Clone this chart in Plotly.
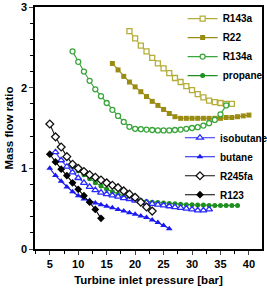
import plotly.graph_objects as go

# ---- data ----
p_r143a = list(range(19, 38))
m_r143a = [2.70, 2.61, 2.52, 2.45, 2.37, 2.30, 2.24, 2.18, 2.12, 2.07, 2.02,
           1.97, 1.92, 1.88, 1.84, 1.82, 1.81, 1.80, 1.80]

p_r22 = list(range(16, 41))
m_r22 = [2.30, 2.22, 2.14, 2.07, 2.01, 1.95, 1.89, 1.83, 1.78, 1.73, 1.68, 1.64,
         1.62, 1.62, 1.62, 1.62, 1.62, 1.62, 1.62, 1.62, 1.63, 1.63, 1.64, 1.65, 1.66]

p_r134a = list(range(9, 37))
m_r134a = [2.45, 2.32, 2.20, 2.085, 1.98, 1.895, 1.81, 1.725, 1.65, 1.575, 1.515,
           1.49, 1.485, 1.48, 1.475, 1.47, 1.47, 1.47, 1.475, 1.48, 1.49, 1.50,
           1.51, 1.53, 1.56, 1.60, 1.67, 1.78]

p_propane = list(range(9, 39))
m_propane = [1.02, 0.97, 0.92, 0.87, 0.82, 0.78, 0.74, 0.71, 0.68, 0.65, 0.63,
             0.61, 0.60, 0.59, 0.58, 0.575, 0.57, 0.565, 0.56, 0.555, 0.55, 0.55,
             0.545, 0.545, 0.54, 0.54, 0.54, 0.54, 0.54, 0.54]

p_isobutane = list(range(6, 34))
m_isobutane = [1.20, 1.10, 1.02, 0.95, 0.88, 0.82, 0.77, 0.73, 0.70, 0.68, 0.665,
               0.65, 0.63, 0.62, 0.60, 0.59, 0.575, 0.56, 0.55, 0.54, 0.53, 0.52,
               0.51, 0.50, 0.49, 0.48, 0.48, 0.49]

p_butane = list(range(5, 27))
m_butane = [1.00, 0.91, 0.84, 0.77, 0.71, 0.66, 0.62, 0.60, 0.57, 0.55, 0.53,
            0.51, 0.49, 0.47, 0.45, 0.43, 0.41, 0.39, 0.36, 0.33, 0.29, 0.25]

p_r245fa = list(range(5, 24))
m_r245fa = [1.55, 1.39, 1.265, 1.145, 1.05, 1.00, 0.96, 0.92, 0.89, 0.855, 0.82,
            0.79, 0.76, 0.72, 0.68, 0.64, 0.58, 0.52, 0.47]

p_r123 = list(range(5, 15))
m_r123 = [1.175, 1.08, 0.99, 0.91, 0.82, 0.74, 0.66, 0.58, 0.49, 0.38]

x_ticks = [5, 10, 15, 20, 25, 30, 35, 40]
y_ticks = [0, 1, 2, 3]

FONT = "Liberation Sans, Arial, sans-serif"

series = [
    # name, x, y, color, symbol, open, legend
    ("R143a", p_r143a, m_r143a, "#b5ad3a", "square", True, "legend"),
    ("R22", p_r22, m_r22, "#9a8c12", "square", False, "legend"),
    ("R134a", p_r134a, m_r134a, "#3aa53a", "circle", True, "legend"),
    ("propane", p_propane, m_propane, "#1f8f1f", "circle", False, "legend"),
    ("isobutane", p_isobutane, m_isobutane, "#2a2aff", "triangle-up", True, "legend2"),
    ("butane", p_butane, m_butane, "#1a1aee", "triangle-up", False, "legend2"),
    ("R245fa", p_r245fa, m_r245fa, "#111111", "diamond", True, "legend2"),
    ("R123", p_r123, m_r123, "#000000", "diamond", False, "legend2"),
]

fig = go.Figure()
for name, x, y, col, sym, is_open, leg in series:
    size = 6 if sym in ("triangle-up", "diamond") else 5
    fig.add_trace(go.Scatter(
        x=x, y=y, name=name, mode="lines+markers", legend=leg,
        line=dict(color=col, width=1.1),
        marker=dict(symbol=sym, size=size,
                    color="white" if is_open else col,
                    line=dict(color=col, width=1.3 if is_open else 0)),
    ))

fig.update_layout(
    width=267, height=292,
    margin=dict(l=35, r=5, t=7, b=43, autoexpand=False),
    plot_bgcolor="white", paper_bgcolor="white",
    font=dict(family=FONT, size=11, color="black", weight="bold"),
    legend=dict(x=0.684, y=0.986, xref="container", yref="container",
                xanchor="left", yanchor="top",
                bgcolor="rgba(0,0,0,0)", font=dict(size=10, weight="bold"),
                itemwidth=30, tracegroupgap=0),
    legend2=dict(x=0.674, y=0.578, xref="container", yref="container",
                 xanchor="left", yanchor="top",
                 bgcolor="rgba(0,0,0,0)", font=dict(size=10, weight="bold"),
                 itemwidth=30, tracegroupgap=0),
    xaxis=dict(range=[2.4, 42.3], tickvals=x_ticks, ticks="outside", ticklen=4,
               tickwidth=1, showline=True, linecolor="black", linewidth=1.5,
               mirror=True, showgrid=False, zeroline=False,
               minor=dict(dtick=2.5, tick0=0, ticks="outside", ticklen=3, tickcolor="black"),
               title=dict(text="Turbine inlet pressure [bar]", font=dict(size=11.5, weight="bold"),
                          standoff=7),
               tickfont=dict(size=11, weight="bold")),
    yaxis=dict(range=[0, 3], tickvals=y_ticks, ticks="outside", ticklen=4,
               tickwidth=1, showline=True, linecolor="black", linewidth=1.5,
               mirror=True, showgrid=False, zeroline=False,
               minor=dict(dtick=0.2, tick0=0, ticks="outside", ticklen=3, tickcolor="black"),
               title=dict(text="Mass flow ratio", font=dict(size=11.5, weight="bold"),
                          standoff=5),
               tickfont=dict(size=11, weight="bold")),
)

fig.write_html("out.html")
